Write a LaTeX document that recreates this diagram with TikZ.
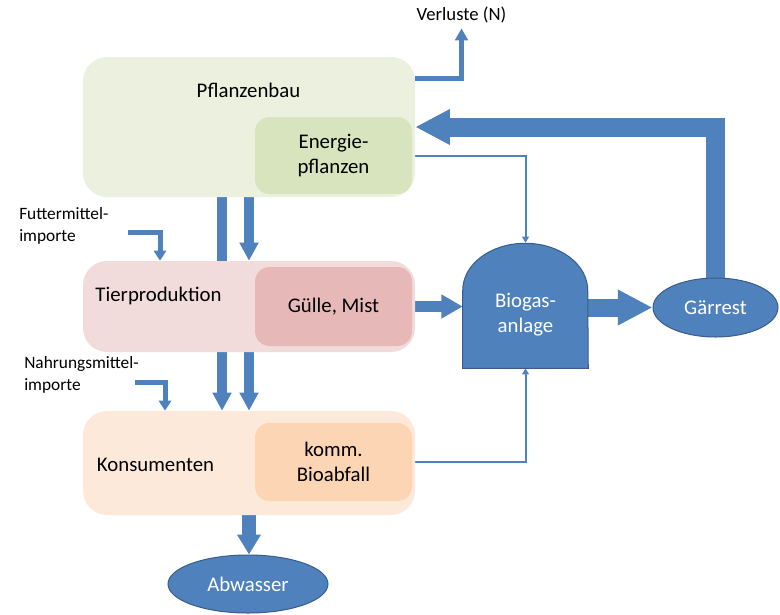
\documentclass[tikz,border=0pt]{standalone}
\usepackage{fontspec}
\setmainfont{Carlito}
\usetikzlibrary{arrows.meta,fit,shapes.geometric,calc}
\pgfdeclarelayer{back}
\pgfsetlayers{back,main}
\definecolor{pbout}{HTML}{EBF1DE}
\definecolor{pbin}{HTML}{D7E4BD}
\definecolor{tpout}{HTML}{F2DCDB}
\definecolor{tpin}{HTML}{E6B9B8}
\definecolor{koout}{HTML}{FDE9D9}
\definecolor{koin}{HTML}{FCD5B5}
\definecolor{flowblue}{HTML}{4F81BD}
\definecolor{nodeblue}{HTML}{4F81BD}
\definecolor{nodeedge}{HTML}{385D8A}
\begin{document}
\begin{tikzpicture}[x=0.75pt,y=-0.75pt,
  outer/.style={rectangle, rounded corners=18pt, inner sep=0pt, draw=none},
  innerbox/.style={rectangle, rounded corners=11pt, inner sep=0pt, draw=none},
  txt/.style={font=\fontsize{15.6}{18.7}\selectfont, align=center, inner sep=0pt},
  smalltxt/.style={font=\fontsize{13}{16.5}\selectfont, align=left, inner sep=0pt},
  blob/.style={ellipse, fill=nodeblue, draw=nodeedge, line width=0.75pt, text=white, inner sep=0pt, font=\fontsize{15.6}{18.7}\selectfont},
  flow/.style={draw=flowblue, line join=miter}
]
\useasboundingbox (0,0) rectangle (780,614);

% boxes
\node[outer, fill=pbout, fit={(83,57)(415,197)}] (pb) {};
\node[innerbox, fill=pbin, fit={(255,117)(412,194)}] (ep) {};
\node[txt] (pbt) at (248.5,90) {Pflanzenbau};
\node[txt] (ept) at (333.5,155.5) {Energie-\\pflanzen};

\node[outer, fill=tpout, fit={(83,261)(415,352)}] (tp) {};
\node[innerbox, fill=tpin, fit={(255,267)(412,346)}] (gm) {};
\node[txt] (tpt) at (158.5,296) {Tierproduktion};
\node[txt] (gmt) at (333.5,307) {Gülle, Mist};

\node[outer, fill=koout, fit={(83,411)(415,515)}] (ko) {};
\node[innerbox, fill=koin, fit={(255,423)(412,501)}] (ba) {};
\node[txt] (kot) at (155.5,465) {Konsumenten};
\node[txt] (bat) at (333.5,462) {komm.\\Bioabfall};

% Biogasanlage
\node[fit={(463,243)(588,368)}, inner sep=0pt] (bga) {};
\draw[fill=nodeblue, draw=nodeedge, line width=0.75pt]
  (bga.south west) -- ++(0,-78) arc[start angle=180, end angle=0, x radius=46.875pt, y radius=35.25pt]
  -- (bga.south east) -- cycle;
\node[txt, text=white] (bgt) at (525.5,315) {Biogas-\\anlage};

\node[blob, minimum width=93.75pt, minimum height=44.25pt] (gr) at (715.5,307.5) {Gärrest};
\node[blob, minimum width=120pt, minimum height=43.5pt] (aw) at (248,584) {Abwasser};

% texts
\node[smalltxt, font=\fontsize{14}{16.5}\selectfont] (vl) at (461.5,15) {Verluste (N)};
\node[smalltxt, anchor=west] (fm) at (19,226) {Futtermittel-\\importe};
\node[smalltxt, anchor=west] (nm) at (24,375) {Nahrungsmittel-\\importe};

\coordinate (fA) at (128,232);
\coordinate (nA) at (135,382);

\begin{pgfonlayer}{back}
% losses
\draw[flow, line width=3.75pt, shorten >=3.75pt, -{Triangle[length=9pt,width=9.5pt]}]
  ($(pb.east)+(0,-49)$) -| (vl.south);
% digestate return
\draw[flow, line width=14.25pt, -{Triangle[length=26pt,width=25pt]}]
  (gr.center) |- (pb.east);
% thin feeds
\draw[flow, line width=1.5pt, -{Triangle[length=4.5pt,width=5pt]}] (ep.east) -| (bga.north);
\draw[flow, line width=1.5pt, -{Triangle[length=4.5pt,width=5pt]}] (ba.east) -| (bga.south);
% manure to biogas
\draw[flow, line width=8.25pt, -{Triangle[length=16pt,width=17pt]}] (gm.east) -- (gm.east -| bga.west);
% biogas to digestate
\draw[flow, line width=13.5pt, -{Triangle[length=26pt,width=25pt]}] (bga.east |- gr.west) -- (gr.west);
% vertical flows
\draw[flow, line width=7pt, -{Triangle[length=13.5pt,width=13.5pt]}] ($(pb.south)+(-27,0)$) -- ($(ko.north)+(-27,0)$);
\draw[flow, line width=7pt, -{Triangle[length=13.5pt,width=13.5pt]}] (pb.south) -- (tp.north);
\draw[flow, line width=7pt, -{Triangle[length=13.5pt,width=13.5pt]}] (tp.south) -- (ko.north);
% imports
\draw[flow, line width=3.75pt, -{Triangle[length=7.5pt,width=9pt]}] (fA) -| ($(tp.north)+(-89,0)$);
\draw[flow, line width=3.75pt, -{Triangle[length=7.5pt,width=9pt]}] (nA) -| ($(ko.north)+(-84,0)$);
% waste water
\draw[flow, line width=10.5pt, -{Triangle[length=15pt,width=17pt]}] (ko.south) -- (ko.south |- aw.north);
\end{pgfonlayer}
\end{tikzpicture}
\end{document}
